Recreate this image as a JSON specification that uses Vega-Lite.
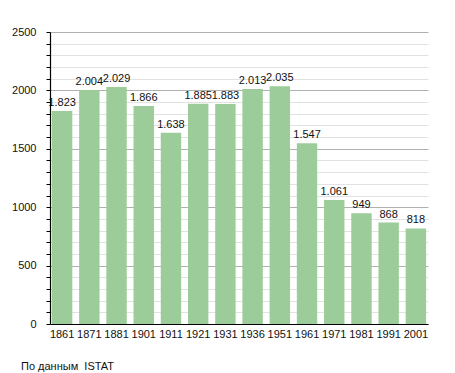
{
  "$schema": "https://vega.github.io/schema/vega-lite/v6.json",
  "width": 378,
  "height": 292,
  "autosize": {"type": "none"},
  "padding": {"left": 50, "top": 32, "right": 27, "bottom": 49},
  "config": {
    "view": {"stroke": null},
    "font": "Liberation Sans",
    "locale": {"number": {"decimal": ",", "thousands": ".", "grouping": [3], "currency": ["", ""]}}
  },
  "title": {
    "text": "По данным\u00a0 ISTAT",
    "orient": "bottom",
    "anchor": "start",
    "frame": "group",
    "dx": -29,
    "offset": 22,
    "fontSize": 11,
    "fontWeight": "normal",
    "color": "#111",
    "font": "Liberation Sans"
  },
  "data": {
    "values": [
      {"year": "1861", "pop": 1823},
      {"year": "1871", "pop": 2004},
      {"year": "1881", "pop": 2029},
      {"year": "1901", "pop": 1866},
      {"year": "1911", "pop": 1638},
      {"year": "1921", "pop": 1885},
      {"year": "1931", "pop": 1883},
      {"year": "1936", "pop": 2013},
      {"year": "1951", "pop": 2035},
      {"year": "1961", "pop": 1547},
      {"year": "1971", "pop": 1061},
      {"year": "1981", "pop": 949},
      {"year": "1991", "pop": 868},
      {"year": "2001", "pop": 818}
    ]
  },
  "encoding": {
    "x": {
      "field": "year",
      "type": "nominal",
      "sort": null,
      "scale": {"paddingInner": 0.25, "paddingOuter": 0.07},
      "axis": {
        "title": null,
        "labelAngle": 0,
        "ticks": false,
        "labelPadding": 4,
        "labelFontSize": 11,
        "labelColor": "#111",
        "domainColor": "#000",
        "domainWidth": 1.2,
        "grid": false
      }
    },
    "y": {
      "field": "pop",
      "type": "quantitative",
      "scale": {"domain": [0, 2500], "nice": false},
      "axis": {
        "title": null,
        "values": [0,100,200,300,400,500,600,700,800,900,1000,1100,1200,1300,1400,1500,1600,1700,1800,1900,2000,2100,2200,2300,2400,2500],
        "labelExpr": "datum.value % 500 === 0 ? '' + datum.value : ''",
        "labelFontSize": 11,
        "labelColor": "#111",
        "labelPadding": 10,
        "tickSize": 4,
        "tickColor": "#000",
        "domainColor": "#000",
        "domainWidth": 1.2,
        "grid": true,
        "gridColor": {"condition": {"test": "datum.value % 500 === 0", "value": "#b0b0b0"}, "value": "#e2e2e2"},
        "labelOverlap": false
      }
    }
  },
  "layer": [
    {"mark": {"type": "bar", "color": "#9ccc99"}},
    {
      "mark": {"type": "text", "baseline": "bottom", "dy": -3, "fontSize": 11, "color": "#111"},
      "encoding": {"text": {"field": "pop", "type": "quantitative", "format": ","}}
    }
  ]
}
